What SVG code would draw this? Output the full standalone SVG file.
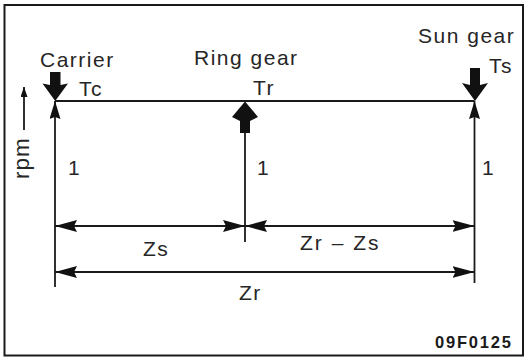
<svg xmlns="http://www.w3.org/2000/svg" width="526" height="358" viewBox="0 0 526 358">
<style>
.t{font-family:"Liberation Sans",Arial,sans-serif;font-size:21px;fill:#262626;letter-spacing:1.5px}
.ln{stroke:#1a1a1a;stroke-width:1.8;fill:none}
.fill{fill:#111;stroke:none}
.code{font-family:"Liberation Sans",Arial,sans-serif;font-size:16.5px;font-weight:bold;fill:#1a1a1a;letter-spacing:1.8px}
</style>
<defs>
<marker id="dim" viewBox="0 0 22 12" refX="22" refY="6" markerWidth="22" markerHeight="12" markerUnits="userSpaceOnUse" orient="auto-start-reverse">
<path d="M0,0 L22,6 L0,12 L3,6 Z" fill="#111"/>
</marker>
<marker id="tip" viewBox="0 0 18 11" refX="18" refY="5.5" markerWidth="18" markerHeight="11" markerUnits="userSpaceOnUse" orient="auto">
<path d="M0,0 L18,5.5 L0,11 L2,5.5 Z" fill="#111"/>
</marker>
<marker id="small" viewBox="0 0 10 7" refX="10" refY="3.5" markerWidth="10" markerHeight="7" markerUnits="userSpaceOnUse" orient="auto">
<path d="M0,0 L10,3.5 L0,7 Z" fill="#111"/>
</marker>
</defs>
<rect x="4.5" y="5" width="518.5" height="350.5" fill="#fff" stroke="#1a1a1a" stroke-width="2"/>
<g id="connectors">
<line class="ln" x1="55" y1="101" x2="474.5" y2="101"/>
<line class="ln" x1="55" y1="287" x2="55" y2="101" marker-end="url(#tip)"/>
<line class="ln" x1="245" y1="242" x2="245" y2="130"/>
<line class="ln" x1="474.5" y1="283" x2="474.5" y2="101" marker-end="url(#tip)"/>
<line class="ln" x1="55" y1="226" x2="245" y2="226" marker-start="url(#dim)" marker-end="url(#dim)"/>
<line class="ln" x1="245" y1="226" x2="474.5" y2="226" marker-start="url(#dim)" marker-end="url(#dim)"/>
<line class="ln" x1="55" y1="272" x2="474.5" y2="272" marker-start="url(#dim)" marker-end="url(#dim)"/>
<line class="ln" x1="24" y1="130" x2="24" y2="87" marker-end="url(#small)"/>
</g>
<g id="carrier">
<path class="fill" d="M50,72 L60.5,72 L60.5,85 L68,83.5 L55.2,101 L42.5,83.5 L50,85 Z"/>
<text class="t" x="40" y="67">Carrier</text>
<text class="t" x="79" y="96">Tc</text>
<text class="t" x="68" y="175">1</text>
</g>
<g id="ring">
<path class="fill" d="M245,101.5 L258,117 L250,121 L250,133 L240,133 L240,121 L232,117 Z"/>
<text class="t" x="194" y="65">Ring gear</text>
<text class="t" x="253" y="95">Tr</text>
<text class="t" x="257" y="175">1</text>
</g>
<g id="sun">
<path class="fill" d="M470,68 L480,68 L480,85 L488,83 L475,101 L462,83 L470,85 Z"/>
<text class="t" x="418" y="43">Sun gear</text>
<text class="t" x="489" y="73">Ts</text>
<text class="t" x="482" y="175">1</text>
</g>
<g id="labels">
<text class="t" x="143" y="256">Zs</text>
<text class="t" x="300" y="250" textLength="80">Zr – Zs</text>
<text class="t" x="239" y="300">Zr</text>
<text class="t" x="29" y="179" transform="rotate(-90 29 179)" style="font-size:22.5px;letter-spacing:1px">rpm</text>
<text class="code" x="435" y="348">09F0125</text>
</g>
</svg>
